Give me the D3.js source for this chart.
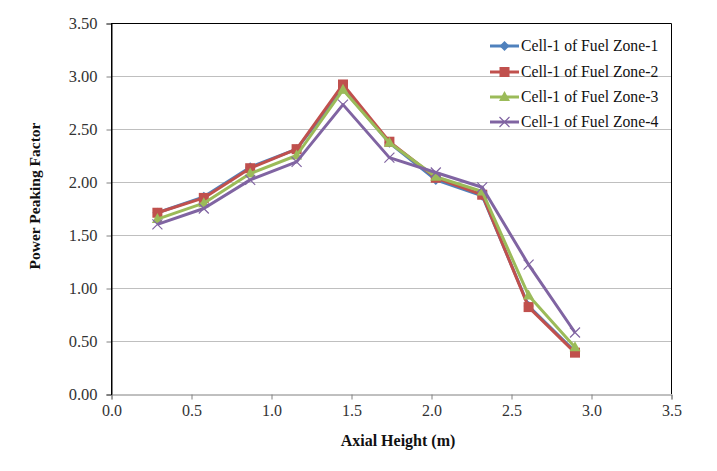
<!DOCTYPE html>
<html><head><meta charset="utf-8">
<script src="https://cdn.jsdelivr.net/npm/d3@7"></script>
<style>body{margin:0;background:#fff}svg{display:block}</style>
</head><body><svg id="c" width="717" height="471"></svg>
<script>
const heights = [0.29, 0.58, 0.87, 1.16, 1.45, 1.74, 2.03, 2.32, 2.61, 2.90];
const zone1 = [1.71, 1.86, 2.14, 2.31, 2.88, 2.37, 2.02, 1.87, 0.83, 0.40];
const zone2 = [1.71, 1.85, 2.13, 2.31, 2.92, 2.38, 2.04, 1.88, 0.82, 0.39];
const zone3 = [1.65, 1.80, 2.08, 2.25, 2.87, 2.37, 2.05, 1.91, 0.93, 0.44];
const zone4 = [1.60, 1.75, 2.02, 2.19, 2.73, 2.23, 2.09, 1.95, 1.22, 0.58];
const seriesNames = ["Cell-1 of Fuel Zone-1","Cell-1 of Fuel Zone-2","Cell-1 of Fuel Zone-3","Cell-1 of Fuel Zone-4"];
const xTicks = [0,0.5,1,1.5,2,2.5,3,3.5];
const yTicks = [0,0.5,1,1.5,2,2.5,3,3.5];

const series = [
 {name:seriesNames[0], vals:zone1, color:"#4F81BD", marker:"diamond"},
 {name:seriesNames[1], vals:zone2, color:"#C0504D", marker:"square"},
 {name:seriesNames[2], vals:zone3, color:"#9BBB59", marker:"triangle"},
 {name:seriesNames[3], vals:zone4, color:"#8064A2", marker:"x"}
];

const svg = d3.select("#c");
const L=111, R=671, T=23, B=394;
const x = d3.scaleLinear().domain([0,3.5]).range([L,R]);
const y = d3.scaleLinear().domain([0,3.5]).range([B,T]);
const font = "'Liberation Serif','Times New Roman',serif";

// gridlines
svg.append("g").selectAll("line").data(yTicks.filter(d=>d>0)).join("line")
 .attr("x1",L).attr("x2",R).attr("y1",d=>y(d)+0.5).attr("y2",d=>y(d)+0.5)
 .attr("stroke","#bfbfbf").attr("stroke-width",1);

// border top/right
svg.append("path").attr("d",`M${L},${T+0.5}H${R+0.5}V${B}`).attr("fill","none").attr("stroke","#000").attr("stroke-width",1);

// axes
const yAxis = d3.axisLeft(y).tickValues(yTicks).tickFormat(d3.format(".2f")).tickSize(5).tickPadding(9);
const gy = svg.append("g").attr("transform",`translate(${L+0.5},0.5)`).call(yAxis);
gy.select(".domain").attr("stroke","#000");
gy.selectAll(".tick line").attr("stroke","#808080");
gy.selectAll("text").attr("font-family",font).attr("font-size",16.5).attr("fill","#333");

const xAxis = d3.axisBottom(x).tickValues(xTicks).tickFormat(d3.format(".1f")).tickSize(5).tickPadding(5);
const gx = svg.append("g").attr("transform",`translate(0.5,${B+0.5})`).call(xAxis);
gx.select(".domain").attr("stroke","#808080");
gx.selectAll(".tick line").attr("stroke","#808080");
gx.selectAll("text").attr("font-family",font).attr("font-size",16).attr("fill","#333");
// redraw y-axis line over x domain
svg.append("line").attr("x1",L+0.5).attr("x2",L+0.5).attr("y1",T).attr("y2",B+1).attr("stroke","#000");

// titles
svg.append("text").attr("x",398).attr("y",446).attr("text-anchor","middle")
 .attr("font-family",font).attr("font-weight","bold").attr("font-size",16).attr("fill","#111").text("Axial Height (m)");
svg.append("text").attr("transform","translate(40,196) rotate(-90)").attr("text-anchor","middle")
 .attr("font-family",font).attr("font-weight","bold").attr("font-size",15.5).attr("fill","#111").text("Power Peaking Factor");

function drawMarker(g, type, color, cx, cy){
  if(type==="diamond"){
    g.append("path").attr("d",`M${cx},${cy-5}L${cx+5},${cy}L${cx},${cy+5}L${cx-5},${cy}Z`).attr("fill",color);
  } else if(type==="square"){
    g.append("rect").attr("x",cx-5).attr("y",cy-5).attr("width",10).attr("height",10).attr("fill",color);
  } else if(type==="triangle"){
    g.append("path").attr("d",`M${cx},${cy-6}L${cx+5.5},${cy+4}L${cx-5.5},${cy+4}Z`).attr("fill",color);
  } else {
    g.append("path").attr("d",`M${cx-5},${cy-5}L${cx+5},${cy+5}M${cx-5},${cy+5}L${cx+5},${cy-5}`).attr("stroke",color).attr("stroke-width",1.2);
  }
}

const line = d3.line().x((d,i)=>x(heights[i])).y(d=>y(d));
series.forEach(s=>{
  const g = svg.append("g");
  g.append("path").datum(s.vals).attr("d",line).attr("fill","none").attr("stroke",s.color).attr("stroke-width",3).attr("stroke-linejoin","round");
  s.vals.forEach((v,i)=>drawMarker(g,s.marker,s.color,x(heights[i]),y(v)));
});

// legend
const legY = [46,72,97,122];
series.forEach((s,i)=>{
  const g = svg.append("g");
  g.append("line").attr("x1",490).attr("x2",519).attr("y1",legY[i]).attr("y2",legY[i]).attr("stroke",s.color).attr("stroke-width",3);
  drawMarker(g,s.marker,s.color,504.5,legY[i]);
  g.append("text").attr("x",521).attr("y",legY[i]+5).attr("font-family",font).attr("font-size",15.7).attr("fill","#111").text(s.name);
});
</script></body></html>
